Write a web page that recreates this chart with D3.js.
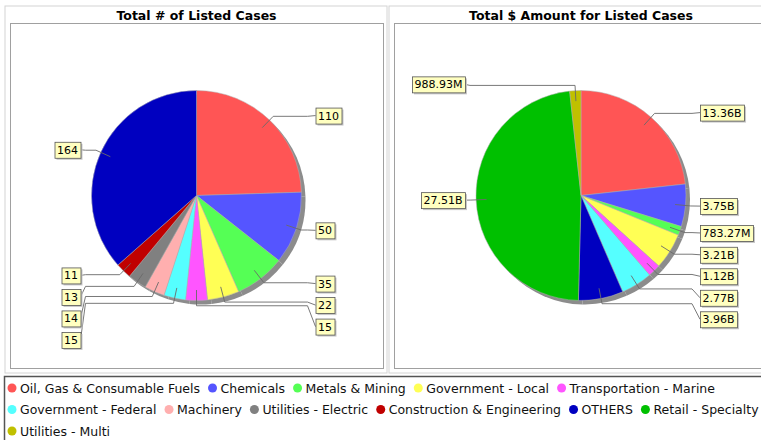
<!DOCTYPE html>
<html lang="en">
<head>
<meta charset="utf-8">
<title>Listed Cases</title>
<script src="https://d3js.org/d3.v7.min.js"></script>
<style>
body { margin: 0; background: #fff; }
svg { display: block; font-family: "DejaVu Sans", sans-serif; }
.title { font-size: 12.5px; font-weight: bold; fill: #000; }
.label { font-size: 11px; fill: #000; }
.legend text { font-size: 12.5px; fill: #111; }
.link { fill: none; stroke: #6a6a6a; stroke-width: 0.9; }
</style>
</head>
<body>
<script>
// categories, in series order
var categories = ["Oil, Gas & Consumable Fuels", "Chemicals", "Metals & Mining", "Government - Local",
  "Transportation - Marine", "Government - Federal", "Machinery", "Utilities - Electric",
  "Construction & Engineering", "OTHERS", "Retail - Specialty", "Utilities - Multi"]

// total # of listed cases
var caseCounts = [110, 50, 35, 22, 15, 15, 14, 13, 11, 164, 0, 0]

// total $ amount (dollars)
var amounts = [13.36e9, 3.75e9, 783.27e6, 3.21e9, 1.12e9, 2.77e9, 0, 0, 0, 3.96e9, 27.51e9, 988.93e6]

var palette = ["#ff5555", "#5555ff", "#55ff55", "#ffff55", "#ff55ff", "#55ffff",
  "#ffafaf", "#808080", "#c00000", "#0000c0", "#00c000", "#c0c000"]

var color = d3.scaleOrdinal().domain(categories).range(palette)

var width = 761, height = 440

var svg = d3.select("body").append("svg")
  .attr("width", width)
  .attr("height", height)

function fmtCount(v) { return d3.format("d")(v) }
function fmtAmount(v) {
  return v >= 1e9 ? (v / 1e9).toFixed(2) + "B" : (v / 1e6).toFixed(2) + "M"
}

function drawPanel(values, fmt, title, left, right) {
  var top = 23, bottom = 368
  var cx = (left + right) / 2, cy = (top + bottom) / 2, R = 105
  var g = svg.append("g")

  g.append("rect")
    .attr("x", left - 5).attr("y", 6)
    .attr("width", right - left + 9).attr("height", 367)
    .attr("fill", "#fff").attr("stroke", "#d4d4d4")

  g.append("text")
    .attr("class", "title")
    .attr("x", cx).attr("y", 20)
    .attr("text-anchor", "middle")
    .text(title)

  g.append("rect")
    .attr("x", left + 0.5).attr("y", top + 0.5)
    .attr("width", right - left).attr("height", bottom - top)
    .attr("fill", "#fff").attr("stroke", "#a0a0a0")

  var data = categories.map(function(c, i) { return { name: c, value: values[i] } })

  var pie = d3.pie().sort(null).value(function(d) { return d.value })
  var arcs = pie(data).filter(function(d) { return d.value > 0 })
  var arc = d3.arc().innerRadius(0).outerRadius(R)

  // shadow
  g.append("g")
    .attr("transform", "translate(" + (cx + 4) + "," + (cy + 4) + ")")
    .selectAll("path")
    .data(arcs)
    .enter().append("path")
    .attr("d", arc)
    .attr("fill", "#8c8c8c")

  g.append("g")
    .attr("transform", "translate(" + cx + "," + cy + ")")
    .selectAll("path")
    .data(arcs)
    .enter().append("path")
    .attr("d", arc)
    .attr("fill", function(d) { return color(d.data.name) })
    .attr("stroke", "#b0b0b0")
    .attr("stroke-width", 0.5)

  // labels
  var labels = arcs.map(function(d) {
    var mid = (d.startAngle + d.endAngle) / 2
    var s = Math.sin(mid), c = Math.cos(mid)
    return {
      d: d,
      right: s > -1e-9,
      lx: cx + s * R * 0.9, ly: cy - c * R * 0.9,
      ex: cx + s * R * 1.05, ey: cy - c * R * 1.05,
      y: cy - c * R * 1.06
    }
  })

  var gap = 21.5
  ;[true, false].forEach(function(side) {
    var list = labels.filter(function(l) { return l.right === side })
      .sort(function(a, b) { return a.y - b.y })
    for (var i = 1; i < list.length; i++) {
      if (list[i].y < list[i - 1].y + gap) list[i].y = list[i - 1].y + gap
    }
    for (var j = list.length - 1; j >= 0; j--) {
      var lim = j === list.length - 1 ? bottom - 12 : list[j + 1].y - gap
      if (list[j].y > lim) list[j].y = lim
    }
  })

  var lg = g.append("g")
  labels.forEach(function(l) {
    var anchorX = l.right ? cx + 111 : cx - 111
    var targetX = l.right ? cx + 119 : cx - 116
    lg.append("path")
      .attr("class", "link")
      .attr("d", "M" + l.lx + "," + l.ly + "L" + l.ex + "," + l.ey +
        "L" + anchorX + "," + l.ey + "L" + targetX + "," + l.y)

    var t = lg.append("text")
      .attr("class", "label")
      .attr("y", l.y + 4)
      .attr("text-anchor", "middle")
      .text(fmt(l.d.value))
    var tw = t.node().getComputedTextLength()
    var bw = tw + 5, bh = 16
    var bx = l.right ? targetX : targetX - bw
    t.attr("x", bx + bw / 2)
    lg.insert("rect", function() { return t.node() })
      .attr("x", bx + 2).attr("y", l.y - bh / 2 + 2)
      .attr("width", bw).attr("height", bh)
      .attr("fill", "#c8c8c8")
    lg.insert("rect", function() { return t.node() })
      .attr("x", bx + 0.5).attr("y", l.y - bh / 2 + 0.5)
      .attr("width", bw).attr("height", bh)
      .attr("fill", "#ffffc0").attr("stroke", "#555").attr("stroke-width", 0.8)
  })
}

drawPanel(caseCounts, fmtCount, "Total # of Listed Cases", 10, 383)
drawPanel(amounts, fmtAmount, "Total $ Amount for Listed Cases", 394, 768)

// legend
var legend = svg.append("g").attr("class", "legend")
legend.append("rect")
  .attr("x", 4.5).attr("y", 376.5)
  .attr("width", 770).attr("height", 70)
  .attr("fill", "#fff").attr("stroke", "#555").attr("stroke-width", 1.5)

var lx = 7.5, row = 0, rowH = 21.5, maxX = 764
categories.forEach(function(c) {
  var item = legend.append("g")
  var t = item.append("text").attr("x", 12.5).attr("y", 4.5).text(c)
  var w = 12.5 + t.node().getComputedTextLength()
  if (lx + w > maxX) { lx = 7.5; row++ }
  item.attr("transform", "translate(" + lx + "," + (388 + row * rowH) + ")")
  item.append("circle")
    .attr("cx", 4.5).attr("cy", 0).attr("r", 4.5)
    .attr("fill", color(c))
  lx += w + 8
})
</script>
</body>
</html>
